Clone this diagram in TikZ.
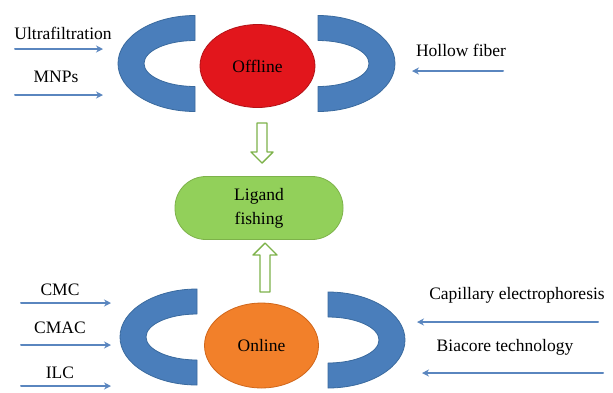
\documentclass[tikz,border=0pt]{standalone}
\usepackage{fontspec}
\setmainfont{Liberation Serif}
\usetikzlibrary{arrows.meta,shapes.geometric}
\definecolor{cblue}{HTML}{4A7EBB}
\definecolor{cblueline}{HTML}{3A6A9E}
\definecolor{cred}{HTML}{E2161C}
\definecolor{credline}{HTML}{B31217}
\definecolor{corange}{HTML}{F2802A}
\definecolor{corangeline}{HTML}{D0661A}
\definecolor{cgreen}{HTML}{92D05A}
\definecolor{cgreenline}{HTML}{7DB24A}
\definecolor{carrow}{HTML}{5A86BF}
\tikzset{
  cup/.style={fill=cblue, draw=cblueline, line width=0.8pt},
  feed/.style={->, draw=carrow, line width=2pt},
  hollow/.style={draw=cgreenline, fill=white, line width=1.4pt},
  lbl/.style={inner sep=0pt}
}
\begin{document}
\begin{tikzpicture}[x=1pt,y=-1pt,>={Stealth[length=7pt,width=7pt]}, font=\fontsize{17.5}{21}\selectfont, line join=round, line cap=round]
\useasboundingbox (0,0) rectangle (613,392);
% left and right cups (outer rx/ry, inner rx/ry)
\def\Ro{77} \def\ro{48} \def\Ri{51} \def\ri{23}
\draw[cup] (195,63.5-\ro) arc[start angle=270, end angle=90, x radius=\Ro, y radius=\ro] -- (195,63.5+\ri) arc[start angle=90, end angle=270, x radius=\Ri, y radius=\ri] -- cycle;
\draw[cup] (318,63.5-\ro) arc[start angle=270, end angle=450, x radius=\Ro, y radius=\ro] -- (318,63.5+\ri) arc[start angle=90, end angle=-90, x radius=\Ri, y radius=\ri] -- cycle;
\draw[cup] (197,337-\ro) arc[start angle=270, end angle=90, x radius=\Ro, y radius=\ro] -- (197,337+\ri) arc[start angle=90, end angle=270, x radius=\Ri, y radius=\ri] -- cycle;
\draw[cup] (328,340-\ro) arc[start angle=270, end angle=450, x radius=\Ro, y radius=\ro] -- (328,340+\ri) arc[start angle=90, end angle=-90, x radius=\Ri, y radius=\ri] -- cycle;
% modes
\node[ellipse, fill=cred, draw=credline, line width=0.8pt, minimum width=115pt, minimum height=83pt, inner sep=0pt] (offline) at (257.5,66) {Offline};
\node[ellipse, fill=corange, draw=corangeline, line width=0.8pt, minimum width=114pt, minimum height=85pt, inner sep=0pt] (online) at (261.5,345.5) {Online};
\node[fill=cgreen, draw=cgreenline, line width=0.8pt, rounded corners=31pt, minimum width=168pt, minimum height=63pt, align=center, inner sep=0pt] (ligand) at (259,208) {Ligand\\[3pt]fishing};
% hollow arrows
\draw[hollow] (257,123) -- (267,123) -- (267,152) -- (273,152) -- (262,163) -- (251,152) -- (257,152) -- cycle;
\draw[hollow] (260,292) -- (270,292) -- (270,255) -- (277,255) -- (265,243) -- (253,255) -- (260,255) -- cycle;
% offline feeds
\node[lbl] (ultra) at (63,33) {Ultrafiltration};
\node[lbl] (mnps) at (56,77) {MNPs};
\node[lbl] (hollowf) at (461,50) {Hollow fiber};
\coordinate (u1) at (15,49); \coordinate (u2) at (103,49);
\coordinate (m1) at (15,95); \coordinate (m2) at (103,95);
\coordinate (h1) at (503,71); \coordinate (h2) at (412,71);
\draw[feed] (u1) -- (u2);
\draw[feed] (m1) -- (m2);
\draw[feed] (h1) -- (h2);
% online feeds
\node[lbl] (cmc) at (60,290) {CMC};
\node[lbl] (cmac) at (60,328) {CMAC};
\node[lbl] (ilc) at (60,373) {ILC};
\node[lbl] (cap) at (517,295) {Capillary electrophoresis};
\node[lbl] (bia) at (505,347) {Biacore technology};
\coordinate (c1) at (21,303); \coordinate (c2) at (111,303);
\coordinate (a1) at (21,345); \coordinate (a2) at (111,345);
\coordinate (i1) at (21,386); \coordinate (i2) at (111,386);
\coordinate (p1) at (598,322); \coordinate (p2) at (417,322);
\coordinate (b1) at (603,373); \coordinate (b2) at (422,373);
\draw[feed] (c1) -- (c2);
\draw[feed] (a1) -- (a2);
\draw[feed] (i1) -- (i2);
\draw[feed] (p1) -- (p2);
\draw[feed] (b1) -- (b2);
\end{tikzpicture}
\end{document}
